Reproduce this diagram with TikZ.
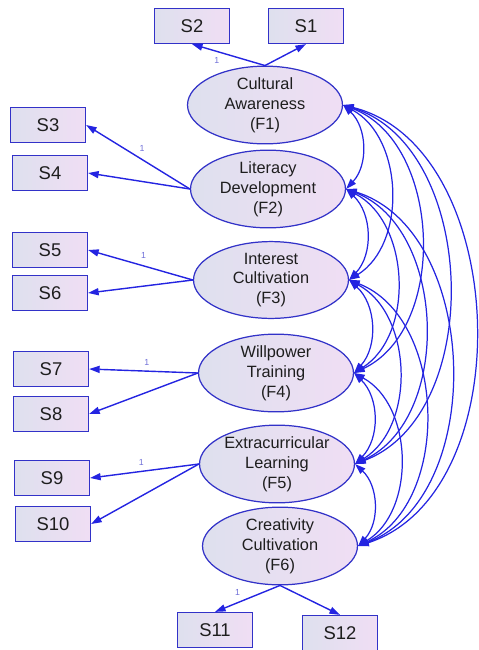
\documentclass[tikz,border=0pt]{standalone}
\usepackage{fontspec}
\setmainfont{Liberation Sans}
\usetikzlibrary{arrows.meta,shapes.geometric}
\definecolor{pathblue}{RGB}{36,36,225}
\definecolor{edgeblue}{RGB}{50,50,200}
\definecolor{shadeleft}{RGB}{222,224,238}
\definecolor{shaderight}{RGB}{240,222,244}
\definecolor{txtgray}{RGB}{30,30,30}

\begin{document}
\begin{tikzpicture}[x=0.02cm,y=-0.02cm,
		obs/.style={rectangle,draw=edgeblue,line width=0.7pt,left color=shadeleft,right color=shaderight,minimum width=1.5cm,minimum height=0.7cm,inner sep=0pt,font=\fontsize{10.5}{12}\selectfont,text=txtgray},
		lat/.style={ellipse,draw=edgeblue,line width=0.7pt,left color=shadeleft,right color=shaderight,minimum width=3.1cm,minimum height=1.48cm,inner sep=0pt,align=center,font=\fontsize{9.3}{11.3}\selectfont,text=txtgray},
		load/.style={-{Triangle[length=6pt,width=4pt]},draw=pathblue,line width=0.8pt},
		cov/.style={{Triangle[length=6pt,width=4pt]}-{Triangle[length=6pt,width=4pt]},draw=pathblue,line width=0.7pt},
		one/.style={font=\fontsize{5}{5}\selectfont,text=edgeblue!70,inner sep=1pt}]
	\useasboundingbox (0,0) rectangle (478,650);
	\node[lat] (F1) at (265,105) {Cultural\\Awareness\\(F1)};
	\node[lat] (F2) at (268,189) {Literacy\\Development\\(F2)};
	\node[lat] (F3) at (271,280) {Interest\\Cultivation\\(F3)};
	\node[lat] (F4) at (276,373) {Willpower\\Training\\(F4)};
	\node[lat] (F5) at (277,464) {Extracurricular\\Learning\\(F5)};
	\node[lat] (F6) at (280,546) {Creativity\\Cultivation\\(F6)};
	\node[obs] (S1) at (306,26) {S1};
	\node[obs] (S2) at (192,26) {S2};
	\node[obs] (S3) at (48,125) {S3};
	\node[obs] (S4) at (50,173) {S4};
	\node[obs] (S5) at (50,250) {S5};
	\node[obs] (S6) at (50,293) {S6};
	\node[obs] (S7) at (51,369) {S7};
	\node[obs] (S8) at (51,414) {S8};
	\node[obs] (S9) at (52,478) {S9};
	\node[obs] (S10) at (53,524) {S10};
	\node[obs] (S11) at (215,630) {S11};
	\node[obs] (S12) at (340,633) {S12};
	\draw[load] (F1.north) -- node[one,pos=0.66,below=2pt] (w1) {1} (S2.south);
	\draw[load] (F1.north) -- (S1.south);
	\draw[load] (F2.west) -- node[one,pos=0.46,above=3pt] (w2) {1} (S3.east);
	\draw[load] (F2.west) -- (S4.east);
	\draw[load] (F3.west) -- node[one,pos=0.47,above=3pt] (w3) {1} (S5.east);
	\draw[load] (F3.west) -- (S6.east);
	\draw[load] (F4.west) -- node[one,pos=0.47,above=2pt] (w4) {1} (S7.east);
	\draw[load] (F4.west) -- (S8.east);
	\draw[load] (F5.west) -- node[one,pos=0.53,above=2pt] (w5) {1} (S9.east);
	\draw[load] (F5.west) -- (S10.east);
	\draw[load] (F6.south) -- node[one,pos=0.55,above left=1pt] (w6) {1} (S11.north);
	\draw[load] (F6.south) -- (S12.north);
	\foreach \i in {1,...,5}{
		\pgfmathtruncatemacro{\k}{\i+1}
		\foreach \j in {\k,...,6}{
			\pgfmathtruncatemacro{\d}{\j-\i-1}
			\pgfmathsetmacro{\b}{{45,60,67,71,74}[\d]}
			\draw[cov] (F\i.east) to[bend left=\b] (F\j.east);
		}
	}
\end{tikzpicture}
\end{document}
